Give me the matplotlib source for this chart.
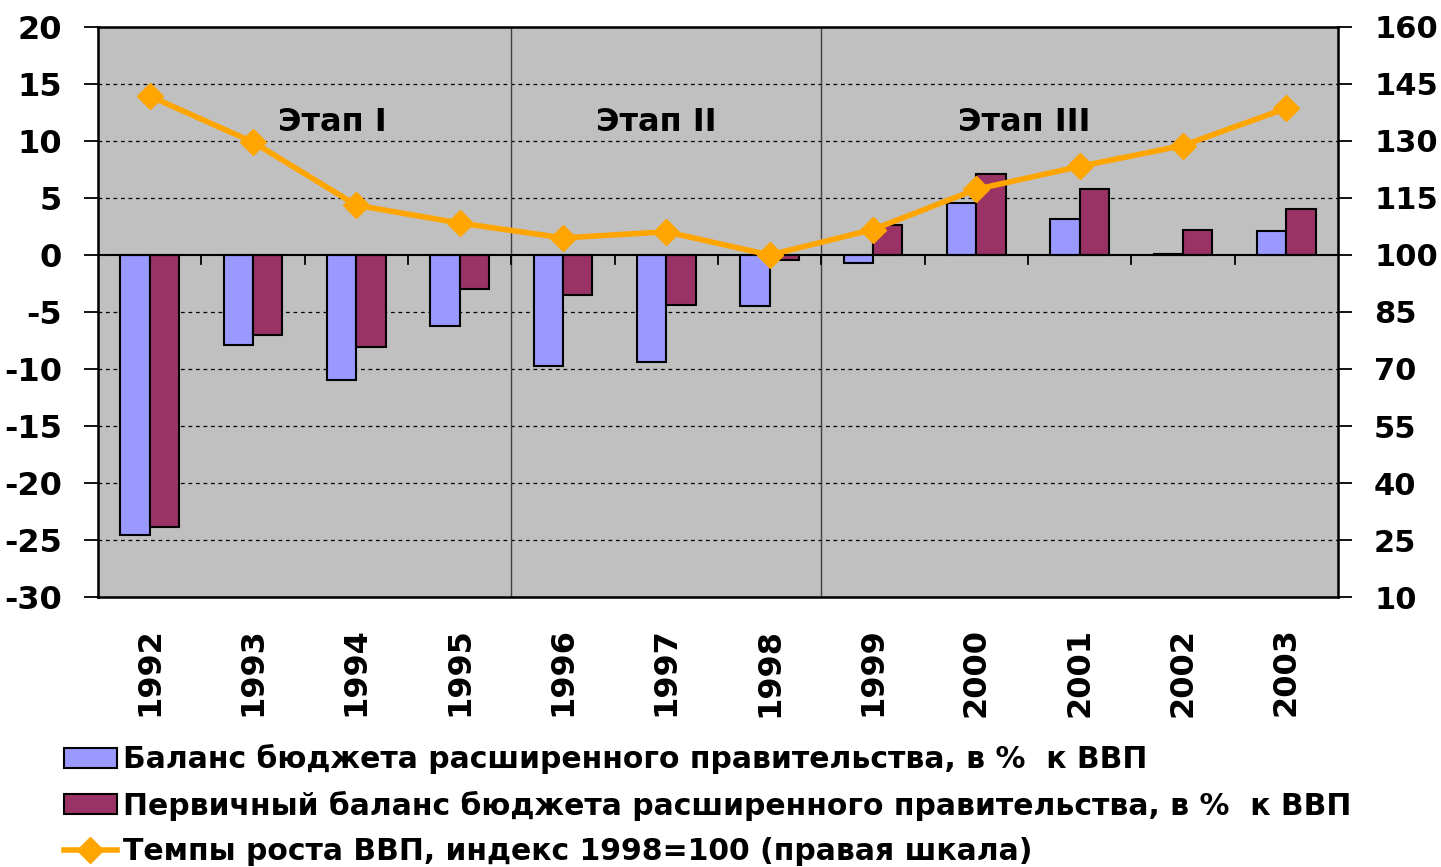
# coding=utf-8
# Баланс бюджета и темпы роста ВВП, 1992-2003
import matplotlib
matplotlib.use('Agg')
import matplotlib.pyplot as plt
import numpy as np

years = ['1992', '1993', '1994', '1995', '1996', '1997',
         '1998', '1999', '2000', '2001', '2002', '2003']
balance = [-24.6, -7.9, -11.0, -6.2, -9.7, -9.4, -4.5, -0.7, 4.6, 3.2, 0.1, 2.1]
primary = [-23.9, -7.0, -8.1, -3.0, -3.5, -4.4, -0.4, 2.6, 7.1, 5.8, 2.2, 4.0]
gdp_index = [141.8, 129.7, 113.1, 108.4, 104.5, 106.1, 100.0, 106.7, 117.3, 123.3, 128.8, 138.6]
stage_names = ['Этап I', 'Этап II', 'Этап III']
stage_pos = [1.77, 4.9, 8.46]
stage_borders = [3.5, 6.5]

label1 = 'Баланс бюджета расширенного правительства, в %  к ВВП'
label2 = 'Первичный баланс бюджета расширенного правительства, в %  к ВВП'
label3 = 'Темпы роста ВВП, индекс 1998=100 (правая шкала)'

plt.rcParams['font.family'] = ['DejaVu Sans']
plt.rcParams['font.weight'] = 'bold'
plt.rcParams['axes.unicode_minus'] = False

fig = plt.figure(figsize=(14.41, 8.67), dpi=100)
ax1 = fig.add_axes([0.068, 0.3114, 0.8605, 0.6575])
ax1.set_facecolor('#c0c0c0')

x = np.arange(len(years))
w = 0.285
b1 = ax1.bar(x - w / 2, balance, w, color='#9999ff', edgecolor='black', linewidth=1.5, label=label1)
b2 = ax1.bar(x + w / 2, primary, w, color='#993366', edgecolor='black', linewidth=1.5, label=label2)

ax1.set_xlim(-0.5, len(years) - 0.5)
ax1.set_ylim(-30, 20)
ax1.set_yticks(range(-30, 21, 5))
for v in range(-25, 20, 5):
    if v != 0:
        ax1.axhline(v, color='black', linestyle=(0, (3, 3)), linewidth=0.9, zorder=0.5)
ax1.axhline(0, color='black', linewidth=1.5, zorder=3)
# засечки на оси x по линии нуля
for k in range(1, len(years)):
    ax1.plot([k - 0.5, k - 0.5], [0, -0.8], color='black', linewidth=1.3, zorder=3)
for s in stage_borders:
    ax1.axvline(s, color='#404040', linewidth=1.0, zorder=0.6)

ax1.set_xticks(x)
ax1.set_xticklabels(years, rotation=90, fontsize=23, fontweight='bold')
ax1.tick_params(axis='x', length=0, pad=22)
ax1.tick_params(axis='y', labelsize=23, length=10, width=1.3, pad=16)
for lab in ax1.get_yticklabels():
    lab.set_fontweight('bold')
for sp in ax1.spines.values():
    sp.set_linewidth(1.8)

for name, p in zip(stage_names, stage_pos):
    ax1.text(p, 11.6, name, ha='center', va='center', fontsize=23, fontweight='bold')

# правая шкала
ax2 = ax1.twinx()
ax2.set_ylim(10, 160)
ax2.set_yticks(range(10, 161, 15))
ax2.tick_params(axis='y', labelsize=22, length=10, width=1.3, pad=16)
for lab in ax2.get_yticklabels():
    lab.set_fontweight('bold')
line, = ax2.plot(x, gdp_index, color='#ffa500', linewidth=4, marker='D', markersize=13,
                 label=label3, zorder=5)

fig.legend([b1, b2, line], [label1, label2, label3], loc='lower left',
           bbox_to_anchor=(0.026, -0.03), frameon=False,
           handlelength=1.75, handleheight=0.65, handletextpad=0.2, labelspacing=0.55,
           prop={'weight': 'bold', 'size': 21.5})

fig.savefig('out.png', dpi=100)
